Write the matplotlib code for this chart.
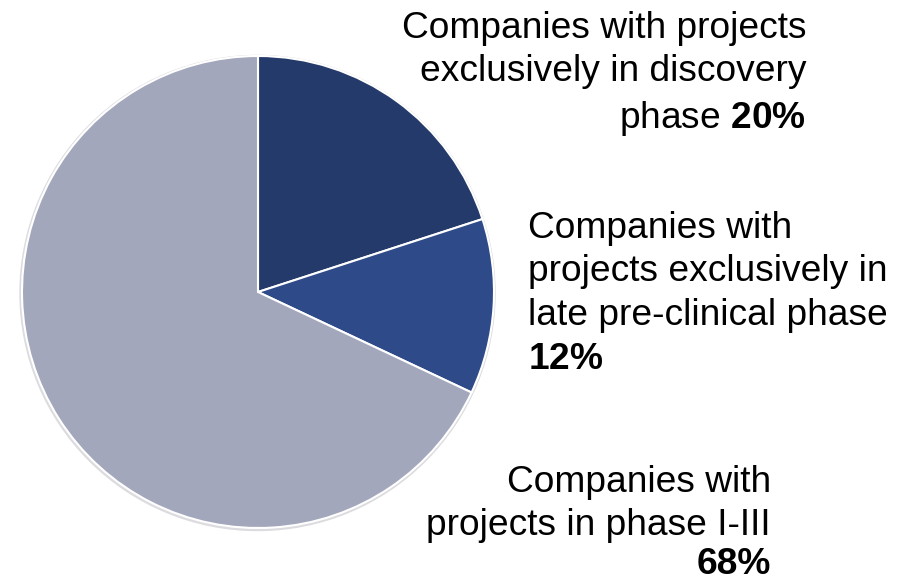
import matplotlib.pyplot as plt
from matplotlib.patches import Circle

plt.rcParams["font.family"] = ["Liberation Sans", "DejaVu Sans"]
plt.rcParams["mathtext.fontset"] = "custom"
plt.rcParams["mathtext.rm"] = "Liberation Sans"
plt.rcParams["mathtext.bf"] = "Liberation Sans:bold"

labels = [
    "Companies with projects\nexclusively in discovery\nphase",
    "Companies with\nprojects exclusively in\nlate pre-clinical phase\n",
    "Companies with\nprojects in phase I-III",
]
shares = [20, 12, 68]
colors = ["#243a6b", "#2e4a88", "#a3a7bc"]

W, H = 908, 582
fig = plt.figure(figsize=(W / 100, H / 100), dpi=100)
ax = fig.add_axes([0, 0, 1, 1])

cx, cy, r = 258, H - 292, 236

# faint shadow behind the pie
ax.add_patch(Circle((cx - 0.5, cy - 1), r + 1.5, color="#dcdce0", zorder=0))

ax.pie(shares, colors=colors, startangle=90, counterclock=False,
       center=(cx, cy), radius=r,
       wedgeprops=dict(edgecolor="white", linewidth=1.5))

ax.set_xlim(0, W)
ax.set_ylim(0, H)
ax.set_aspect("equal")
ax.axis("off")

fs = 26.7
ls = 1.33
ax.text(806, H - 10.5, labels[0] + r" $\mathbf{%d\%%}$" % shares[0],
        ha="right", va="top", fontsize=fs, linespacing=ls)
ax.text(528, H - 210.5, labels[1] + r"$\mathbf{%d\%%}$" % shares[1],
        ha="left", va="top", fontsize=fs, linespacing=ls)
ax.text(771, H - 465, labels[2],
        ha="right", va="top", fontsize=fs, linespacing=1.3)
# last line kept just inside the bottom edge
ax.text(771, 0.5, "%d%%" % shares[2], ha="right", va="bottom",
        fontsize=fs, fontweight="bold")

fig.savefig("out.png", dpi=100)
